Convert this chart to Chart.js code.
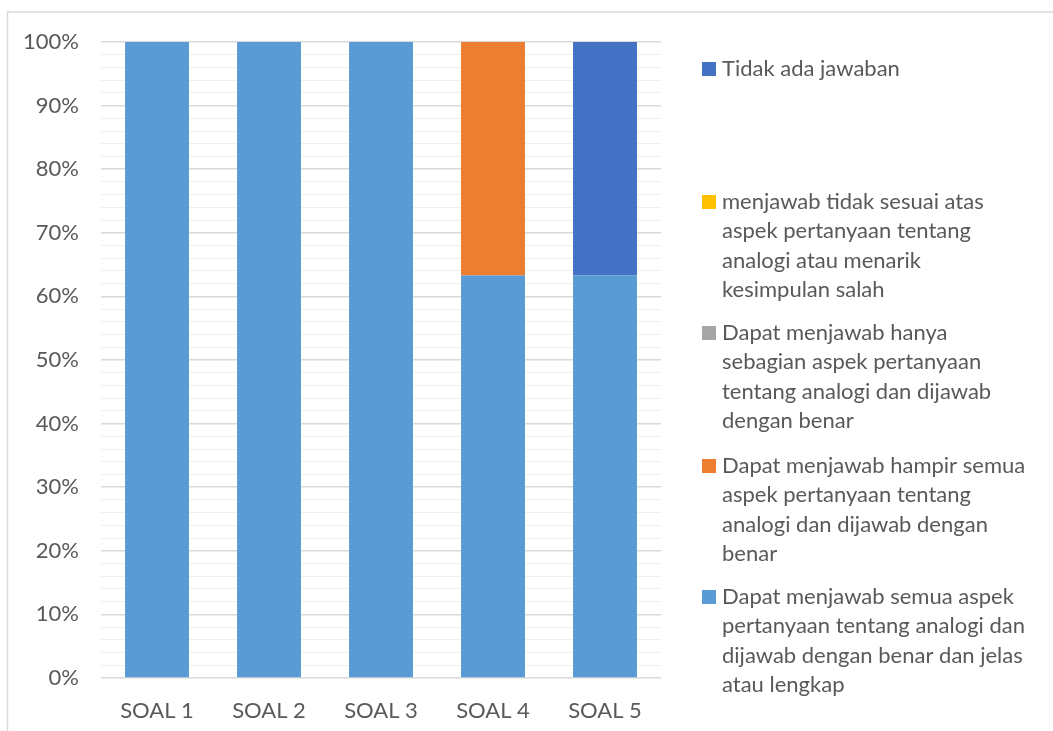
<!DOCTYPE html>
<html>
<head>
<meta charset="utf-8">
<script src="https://cdn.jsdelivr.net/npm/chart.js@4.4.1/dist/chart.umd.min.js"></script>
<style>
    html, body { margin: 0; padding: 0; background: #ffffff; }
    #wrap { width: 1053px; height: 731px; position: relative; }
</style>
</head>
<body>
<div id="wrap"><canvas id="soal-chart" width="1053" height="731"></canvas></div>
<script>
// Categories and series (percent of answers per question)
var categories = ['SOAL 1', 'SOAL 2', 'SOAL 3', 'SOAL 4', 'SOAL 5'];

var seriesNames = [
    'Dapat menjawab semua aspek\npertanyaan tentang analogi dan\ndijawab dengan benar dan jelas\natau lengkap',
    'Dapat menjawab hampir semua\naspek pertanyaan tentang\nanalogi dan dijawab dengan\nbenar',
    'Dapat menjawab hanya\nsebagian aspek pertanyaan\ntentang analogi dan dijawab\ndengan benar',
    'menjawab tidak sesuai atas\naspek pertanyaan tentang\nanalogi atau menarik\nkesimpulan salah',
    'Tidak ada jawaban'
];

var semuaAspek   = [100, 100, 100, 63.3, 63.3];
var hampirSemua  = [0, 0, 0, 36.7, 0];
var sebagian     = [0, 0, 0, 0, 0];
var tidakSesuai  = [0, 0, 0, 0, 0];
var tidakAda     = [0, 0, 0, 0, 36.7];

var seriesColors = ['#5B9BD5', '#ED7D31', '#A5A5A5', '#FFC000', '#4472C4'];

var FONT = 'Lato';
var TEXT_COLOR = '#595959';

// Light frame around the chart (left and top edges are visible)
var framePlugin = {
    id: 'frame',
    beforeDraw: function (chart) {
        var ctx = chart.ctx;
        ctx.save();
        ctx.fillStyle = '#ffffff';
        ctx.fillRect(0, 0, chart.width, chart.height);
        ctx.strokeStyle = '#D9D9D9';
        ctx.lineWidth = 1.5;
        ctx.beginPath();
        ctx.moveTo(7.5, chart.height);
        ctx.lineTo(7.5, 12);
        ctx.lineTo(chart.width, 12);
        ctx.stroke();
        ctx.restore();
    }
};

// Legend on the right, reversed order, wrapped labels
var sideLegend = {
    id: 'sideLegend',
    afterDraw: function (chart) {
        var ctx = chart.ctx;
        var items = chart.data.datasets.slice().reverse();
        var tops = [69, 202, 333, 466, 597];
        ctx.save();
        ctx.font = '22px ' + FONT;
        ctx.textBaseline = 'middle';
        ctx.textAlign = 'left';
        items.forEach(function (ds, i) {
            var y = tops[i];
            ctx.fillStyle = ds.backgroundColor;
            ctx.fillRect(702, y - 7, 14, 14);
            ctx.fillStyle = TEXT_COLOR;
            ds.label.split('\n').forEach(function (line, j) {
                ctx.fillText(line, 722, y + j * 29.3);
            });
        });
        ctx.restore();
    }
};

var seriesValues = [semuaAspek, hampirSemua, sebagian, tidakSesuai, tidakAda];
var datasets = seriesValues.map(function (vals, i) {
    return {
        label: seriesNames[i],
        data: vals,
        backgroundColor: seriesColors[i],
        borderWidth: 0,
        categoryPercentage: 1,
        barPercentage: 0.571
    };
});

new Chart(document.getElementById('soal-chart'), {
    type: 'bar',
    data: { labels: categories, datasets: datasets },
    options: {
        responsive: false,
        animation: false,
        layout: { padding: { left: 0, top: 42, right: 392, bottom: 0 } },
        plugins: {
            legend: { display: false },
            tooltip: { enabled: false }
        },
        scales: {
            x: {
                stacked: true,
                grid: { display: false },
                border: { display: false },
                ticks: {
                    color: TEXT_COLOR,
                    font: { family: FONT, size: 22 },
                    padding: 12,
                    maxRotation: 0
                },
                afterFit: function (scale) { scale.height = 53; }
            },
            y: {
                stacked: true,
                min: 0,
                max: 100,
                border: { display: false },
                grid: {
                    drawTicks: false,
                    color: function (c) {
                        return c.tick && c.tick.value % 10 === 0 ? '#D9D9D9' : '#F0F0F0';
                    },
                    lineWidth: function (c) {
                        return c.tick && c.tick.value % 10 === 0 ? 1.5 : 1;
                    }
                },
                ticks: {
                    stepSize: 2,
                    autoSkip: false,
                    padding: 22,
                    color: TEXT_COLOR,
                    font: { family: FONT, size: 22 },
                    callback: function (value) {
                        return value % 10 === 0 ? value + '%' : '';
                    }
                },
                afterFit: function (scale) { scale.width = 101; }
            }
        }
    },
    plugins: [framePlugin, sideLegend]
});
</script>
</body>
</html>
